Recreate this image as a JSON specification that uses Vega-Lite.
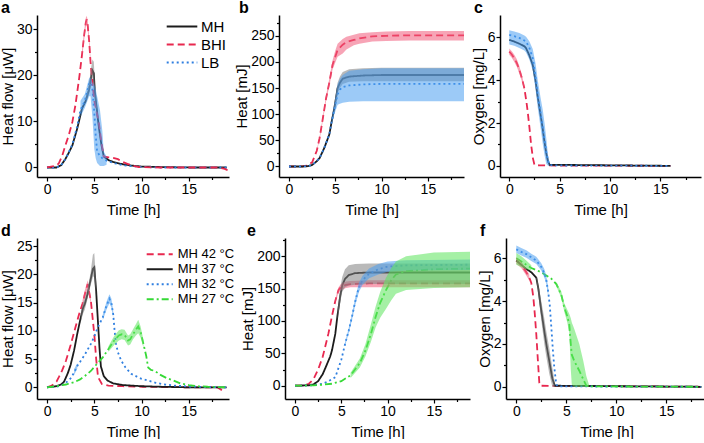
{
"$schema":"https://vega.github.io/schema/vega-lite/v6.json",
"padding":{"left":0,"top":0,"right":0,"bottom":0},
"background":"white",
"config":{"view":{"stroke":null},"font":"Liberation Sans",
"axis":{"grid":false,"domainColor":"#000","tickColor":"#000","labelColor":"#000","titleColor":"#000","labelFont":"Liberation Sans","titleFont":"Liberation Sans","labelFontSize":14,"titleFontSize":15,"titleFontWeight":"normal","tickSize":4,"domainWidth":1.5,"tickWidth":1.2,"labelPadding":1},
"axisX":{"titlePadding":6},"axisY":{"titlePadding":1},
"title":{"font":"Liberation Sans","fontSize":16,"fontWeight":"bold","anchor":"start","frame":"group","baseline":"alphabetic","offset":-1,"color":"#000"}},
"datasets":{
"a":[
{"s":"MH","t":0,"y":0},{"s":"MH","t":1,"y":0},{"s":"MH","t":1.5,"y":0.5},{"s":"MH","t":1.96,"y":1.9},{"s":"MH","t":2.3,"y":3.2},{"s":"MH","t":2.68,"y":4.8},{"s":"MH","t":3.2,"y":8.5},{"s":"MH","t":3.7,"y":12.8},{"s":"MH","t":4.1,"y":14.5,"lo":14,"hi":15},{"s":"MH","t":4.46,"y":17,"lo":16,"hi":18.5},{"s":"MH","t":4.65,"y":19.5,"lo":18,"hi":21.5},{"s":"MH","t":4.8,"y":21.1,"lo":19.5,"hi":23.5},{"s":"MH","t":4.95,"y":20.5,"lo":19,"hi":23},{"s":"MH","t":5.06,"y":16.4,"lo":15,"hi":18.5},{"s":"MH","t":5.3,"y":12,"lo":11,"hi":13},{"s":"MH","t":5.5,"y":8.5},{"s":"MH","t":5.75,"y":5},{"s":"MH","t":6,"y":2.4},{"s":"MH","t":6.5,"y":1.6},{"s":"MH","t":7,"y":1.2},{"s":"MH","t":8,"y":0.7},{"s":"MH","t":9,"y":0.4},{"s":"MH","t":10,"y":0.2},{"s":"MH","t":12,"y":0.1},{"s":"MH","t":15,"y":0},{"s":"MH","t":19,"y":0},
{"s":"LB","t":0,"y":0},{"s":"LB","t":1,"y":0},{"s":"LB","t":1.5,"y":0.5},{"s":"LB","t":1.96,"y":1.9},{"s":"LB","t":2.3,"y":3.3},{"s":"LB","t":2.68,"y":5},{"s":"LB","t":3.2,"y":9},{"s":"LB","t":3.54,"y":12.5,"lo":11,"hi":14.5},{"s":"LB","t":4,"y":14.5,"lo":13,"hi":16},{"s":"LB","t":4.46,"y":18.2,"lo":15.5,"hi":19.5},{"s":"LB","t":4.6,"y":18.5,"lo":15.5,"hi":19.5},{"s":"LB","t":4.8,"y":17,"lo":11,"hi":18.5},{"s":"LB","t":5,"y":12,"lo":4,"hi":18},{"s":"LB","t":5.15,"y":7,"lo":2,"hi":17},{"s":"LB","t":5.3,"y":3.5,"lo":1,"hi":15.5},{"s":"LB","t":5.6,"y":2.5,"lo":0.3,"hi":12.5},{"s":"LB","t":5.85,"y":2,"lo":0.3,"hi":8},{"s":"LB","t":6,"y":1.8,"lo":0.3,"hi":3.5},{"s":"LB","t":6.3,"y":1.5,"lo":0.6,"hi":2.4},{"s":"LB","t":6.5,"y":1.3},{"s":"LB","t":7,"y":1},{"s":"LB","t":8,"y":0.5},{"s":"LB","t":9,"y":0.3},{"s":"LB","t":10,"y":0.1},{"s":"LB","t":12,"y":0},{"s":"LB","t":19,"y":0},
{"s":"BHI","t":0,"y":0},{"s":"BHI","t":1,"y":0.4},{"s":"BHI","t":1.25,"y":0.9},{"s":"BHI","t":1.6,"y":2.5},{"s":"BHI","t":1.96,"y":4.9},{"s":"BHI","t":2.3,"y":7},{"s":"BHI","t":2.68,"y":9.9},{"s":"BHI","t":3,"y":13.5},{"s":"BHI","t":3.4,"y":19.4},{"s":"BHI","t":3.7,"y":24.5,"lo":23.5,"hi":25.5},{"s":"BHI","t":3.93,"y":28.8,"lo":27.8,"hi":29.8},{"s":"BHI","t":4.1,"y":31.5,"lo":30.5,"hi":32.5},{"s":"BHI","t":4.2,"y":32.2,"lo":31.2,"hi":33},{"s":"BHI","t":4.3,"y":31,"lo":30,"hi":32},{"s":"BHI","t":4.46,"y":27.4,"lo":26.4,"hi":28.4},{"s":"BHI","t":4.6,"y":23,"lo":22,"hi":24},{"s":"BHI","t":4.75,"y":19.4},{"s":"BHI","t":5,"y":14.5},{"s":"BHI","t":5.25,"y":12},{"s":"BHI","t":5.5,"y":9.5},{"s":"BHI","t":5.75,"y":5.5},{"s":"BHI","t":6,"y":2.4},{"s":"BHI","t":6.5,"y":2.2},{"s":"BHI","t":7,"y":2.1},{"s":"BHI","t":7.5,"y":1.8},{"s":"BHI","t":8,"y":1.2},{"s":"BHI","t":8.5,"y":0.8},{"s":"BHI","t":9,"y":0.4},{"s":"BHI","t":9.7,"y":0.1},{"s":"BHI","t":12,"y":0},{"s":"BHI","t":15,"y":0},{"s":"BHI","t":18,"y":0},{"s":"BHI","t":18.8,"y":-0.3},{"s":"BHI","t":19.1,"y":-0.6}
],
"b":[
{"s":"BHI","t":0,"y":0},{"s":"BHI","t":1,"y":0},{"s":"BHI","t":1.5,"y":0.5},{"s":"BHI","t":2,"y":2},{"s":"BHI","t":2.5,"y":8},{"s":"BHI","t":3,"y":30,"lo":28,"hi":32},{"s":"BHI","t":3.3,"y":54,"lo":51,"hi":57},{"s":"BHI","t":3.6,"y":86,"lo":82,"hi":90},{"s":"BHI","t":4,"y":130,"lo":125,"hi":136},{"s":"BHI","t":4.35,"y":160,"lo":153,"hi":168},{"s":"BHI","t":4.7,"y":194,"lo":185,"hi":203},{"s":"BHI","t":5,"y":210,"lo":199,"hi":222},{"s":"BHI","t":5.25,"y":223,"lo":210,"hi":235},{"s":"BHI","t":5.8,"y":233,"lo":216,"hi":244},{"s":"BHI","t":6.2,"y":238,"lo":224,"hi":248},{"s":"BHI","t":7,"y":242,"lo":232,"hi":252},{"s":"BHI","t":7.6,"y":245,"lo":235,"hi":255},{"s":"BHI","t":9,"y":249,"lo":239,"hi":257},{"s":"BHI","t":10.5,"y":250,"lo":240,"hi":258},{"s":"BHI","t":13,"y":251,"lo":241,"hi":259},{"s":"BHI","t":19,"y":251,"lo":241,"hi":259},
{"s":"MH","t":0,"y":0},{"s":"MH","t":1.5,"y":0},{"s":"MH","t":2,"y":0.5},{"s":"MH","t":2.5,"y":3},{"s":"MH","t":3,"y":10},{"s":"MH","t":3.3,"y":16},{"s":"MH","t":3.8,"y":35},{"s":"MH","t":4.35,"y":61},{"s":"MH","t":4.6,"y":85},{"s":"MH","t":4.9,"y":112,"lo":108,"hi":118},{"s":"MH","t":5.25,"y":150,"lo":140,"hi":160},{"s":"MH","t":5.5,"y":160,"lo":150,"hi":172},{"s":"MH","t":5.8,"y":168,"lo":158,"hi":181},{"s":"MH","t":6.5,"y":172,"lo":162,"hi":186},{"s":"MH","t":8,"y":174,"lo":163,"hi":188},{"s":"MH","t":10,"y":175,"lo":163,"hi":189},{"s":"MH","t":19,"y":175,"lo":163,"hi":189},
{"s":"LB","t":0,"y":0},{"s":"LB","t":1.5,"y":0},{"s":"LB","t":2,"y":0.5},{"s":"LB","t":2.5,"y":3},{"s":"LB","t":3,"y":10},{"s":"LB","t":3.3,"y":16},{"s":"LB","t":3.8,"y":35},{"s":"LB","t":4.35,"y":61},{"s":"LB","t":4.6,"y":85,"lo":80,"hi":90},{"s":"LB","t":4.9,"y":110,"lo":100,"hi":120},{"s":"LB","t":5.25,"y":138,"lo":118,"hi":158},{"s":"LB","t":5.5,"y":147,"lo":120,"hi":168},{"s":"LB","t":5.8,"y":152,"lo":122,"hi":175},{"s":"LB","t":6.5,"y":155,"lo":124,"hi":183},{"s":"LB","t":8,"y":157,"lo":125,"hi":186},{"s":"LB","t":10,"y":158,"lo":125,"hi":188},{"s":"LB","t":19,"y":158,"lo":125,"hi":188}
],
"c":[
{"s":"BHI","t":0,"y":5.33,"lo":5.18,"hi":5.48},{"s":"BHI","t":0.25,"y":5.2,"lo":5.05,"hi":5.35},{"s":"BHI","t":0.5,"y":5.02,"lo":4.85,"hi":5.18},{"s":"BHI","t":0.75,"y":4.8,"lo":4.62,"hi":4.98},{"s":"BHI","t":1,"y":4.48,"lo":4.3,"hi":4.66},{"s":"BHI","t":1.25,"y":4.1,"lo":3.95,"hi":4.25},{"s":"BHI","t":1.5,"y":3.62,"lo":3.5,"hi":3.74},{"s":"BHI","t":1.7,"y":3.0},{"s":"BHI","t":1.83,"y":2.53},{"s":"BHI","t":2,"y":1.8},{"s":"BHI","t":2.17,"y":0.98},{"s":"BHI","t":2.35,"y":0.35},{"s":"BHI","t":2.5,"y":0.05},{"s":"BHI","t":3,"y":0.02},{"s":"BHI","t":16,"y":0},
{"s":"MH","t":0,"y":5.88},{"s":"MH","t":0.5,"y":5.8},{"s":"MH","t":1,"y":5.7},{"s":"MH","t":1.5,"y":5.58},{"s":"MH","t":1.67,"y":5.49},{"s":"MH","t":2,"y":5.15},{"s":"MH","t":2.33,"y":4.71},{"s":"MH","t":2.6,"y":4.0},{"s":"MH","t":2.83,"y":3.2},{"s":"MH","t":3.1,"y":2.4},{"s":"MH","t":3.33,"y":1.7},{"s":"MH","t":3.5,"y":1.1},{"s":"MH","t":3.67,"y":0.6},{"s":"MH","t":3.85,"y":0.2},{"s":"MH","t":4,"y":0.05},{"s":"MH","t":16,"y":0},
{"s":"LB","t":0,"y":6.11,"lo":5.66,"hi":6.33},{"s":"LB","t":0.5,"y":6.05,"lo":5.6,"hi":6.27},{"s":"LB","t":1,"y":5.97,"lo":5.5,"hi":6.2},{"s":"LB","t":1.5,"y":5.85,"lo":5.38,"hi":6.08},{"s":"LB","t":1.67,"y":5.8,"lo":5.29,"hi":6.03},{"s":"LB","t":2,"y":5.5,"lo":4.95,"hi":5.8},{"s":"LB","t":2.33,"y":5.02,"lo":4.45,"hi":5.45},{"s":"LB","t":2.6,"y":4.2,"lo":3.6,"hi":4.8},{"s":"LB","t":2.83,"y":3.31,"lo":2.7,"hi":4.0},{"s":"LB","t":3.1,"y":2.5,"lo":1.8,"hi":3.2},{"s":"LB","t":3.33,"y":1.75,"lo":1.0,"hi":2.6},{"s":"LB","t":3.5,"y":1.2,"lo":0.5,"hi":2.0},{"s":"LB","t":3.67,"y":0.67,"lo":0.1,"hi":1.3},{"s":"LB","t":3.85,"y":0.25,"lo":0,"hi":0.5},{"s":"LB","t":4,"y":0.05,"lo":0,"hi":0.1},{"s":"LB","t":4.3,"y":0.02},{"s":"LB","t":16,"y":0}
],
"d":[
{"s":"MH 42 °C","t":0,"y":0},{"s":"MH 42 °C","t":0.5,"y":0.3},{"s":"MH 42 °C","t":1,"y":1},{"s":"MH 42 °C","t":1.25,"y":1.8},{"s":"MH 42 °C","t":1.6,"y":3},{"s":"MH 42 °C","t":2,"y":4.7},{"s":"MH 42 °C","t":2.5,"y":7.5},{"s":"MH 42 °C","t":3,"y":10.6},{"s":"MH 42 °C","t":3.4,"y":13},{"s":"MH 42 °C","t":3.75,"y":14.8,"lo":14.2,"hi":15.4},{"s":"MH 42 °C","t":4,"y":16.5,"lo":15.8,"hi":17.2},{"s":"MH 42 °C","t":4.3,"y":18.3,"lo":17.6,"hi":19},{"s":"MH 42 °C","t":4.64,"y":15.3,"lo":14.7,"hi":15.9},{"s":"MH 42 °C","t":5,"y":9.4},{"s":"MH 42 °C","t":5.2,"y":5},{"s":"MH 42 °C","t":5.4,"y":1.8},{"s":"MH 42 °C","t":5.8,"y":0.6},{"s":"MH 42 °C","t":6.5,"y":0.3},{"s":"MH 42 °C","t":8,"y":0.2},{"s":"MH 42 °C","t":10,"y":0.1},{"s":"MH 42 °C","t":15,"y":0},{"s":"MH 42 °C","t":18,"y":0},{"s":"MH 42 °C","t":18.5,"y":-0.5},
{"s":"MH 37 °C","t":0,"y":0},{"s":"MH 37 °C","t":1,"y":0.2},{"s":"MH 37 °C","t":1.5,"y":0.5},{"s":"MH 37 °C","t":1.8,"y":1},{"s":"MH 37 °C","t":2.2,"y":2.5},{"s":"MH 37 °C","t":2.5,"y":4},{"s":"MH 37 °C","t":2.86,"y":6.5},{"s":"MH 37 °C","t":3.2,"y":9.5},{"s":"MH 37 °C","t":3.57,"y":12.4,"lo":11.6,"hi":13.2},{"s":"MH 37 °C","t":3.8,"y":14,"lo":13,"hi":15},{"s":"MH 37 °C","t":4,"y":14.8,"lo":13.8,"hi":15.8},{"s":"MH 37 °C","t":4.28,"y":16.5,"lo":15.6,"hi":17.4},{"s":"MH 37 °C","t":4.6,"y":19,"lo":18,"hi":20.2},{"s":"MH 37 °C","t":4.85,"y":21,"lo":19.5,"hi":23.5},{"s":"MH 37 °C","t":5,"y":21.3,"lo":19.8,"hi":23.8},{"s":"MH 37 °C","t":5.2,"y":17,"lo":16,"hi":18.5},{"s":"MH 37 °C","t":5.36,"y":12.4},{"s":"MH 37 °C","t":5.55,"y":7},{"s":"MH 37 °C","t":5.7,"y":3.7},{"s":"MH 37 °C","t":6,"y":2},{"s":"MH 37 °C","t":6.4,"y":1.2},{"s":"MH 37 °C","t":7,"y":0.7},{"s":"MH 37 °C","t":8,"y":0.4},{"s":"MH 37 °C","t":10,"y":0.2},{"s":"MH 37 °C","t":12,"y":0.1},{"s":"MH 37 °C","t":15,"y":0},{"s":"MH 37 °C","t":19,"y":0},
{"s":"MH 32 °C","t":0,"y":0},{"s":"MH 32 °C","t":1,"y":0.1},{"s":"MH 32 °C","t":1.5,"y":0.3},{"s":"MH 32 °C","t":2,"y":0.8},{"s":"MH 32 °C","t":2.5,"y":1.6},{"s":"MH 32 °C","t":2.86,"y":2.6,"lo":2.2,"hi":3.2},{"s":"MH 32 °C","t":3.2,"y":3.8,"lo":3.3,"hi":4.3},{"s":"MH 32 °C","t":3.57,"y":4.7},{"s":"MH 32 °C","t":4,"y":5.8},{"s":"MH 32 °C","t":4.64,"y":7.7},{"s":"MH 32 °C","t":5,"y":9},{"s":"MH 32 °C","t":5.36,"y":10.6},{"s":"MH 32 °C","t":5.9,"y":12.4,"lo":11.9,"hi":12.9},{"s":"MH 32 °C","t":6.3,"y":14.5,"lo":13.8,"hi":15.2},{"s":"MH 32 °C","t":6.6,"y":15.7,"lo":14.9,"hi":16.5},{"s":"MH 32 °C","t":6.8,"y":15,"lo":14.2,"hi":15.8},{"s":"MH 32 °C","t":7,"y":13,"lo":12.3,"hi":13.7},{"s":"MH 32 °C","t":7.15,"y":10},{"s":"MH 32 °C","t":7.3,"y":7.7},{"s":"MH 32 °C","t":7.5,"y":6.2},{"s":"MH 32 °C","t":7.86,"y":4.7},{"s":"MH 32 °C","t":8.3,"y":3.5},{"s":"MH 32 °C","t":8.9,"y":2.4},{"s":"MH 32 °C","t":9.5,"y":1.9},{"s":"MH 32 °C","t":10,"y":1.5},{"s":"MH 32 °C","t":10.7,"y":1.2},{"s":"MH 32 °C","t":11.5,"y":0.8},{"s":"MH 32 °C","t":12.5,"y":0.5},{"s":"MH 32 °C","t":13.5,"y":0.3},{"s":"MH 32 °C","t":15,"y":0.15},{"s":"MH 32 °C","t":17,"y":0.05},{"s":"MH 32 °C","t":19,"y":0},
{"s":"MH 27 °C","t":0,"y":0},{"s":"MH 27 °C","t":1,"y":0.2},{"s":"MH 27 °C","t":2,"y":0.5},{"s":"MH 27 °C","t":2.86,"y":0.9},{"s":"MH 27 °C","t":3.5,"y":1.4},{"s":"MH 27 °C","t":4,"y":2},{"s":"MH 27 °C","t":4.64,"y":2.9},{"s":"MH 27 °C","t":5.2,"y":4},{"s":"MH 27 °C","t":5.9,"y":5.3},{"s":"MH 27 °C","t":6.5,"y":6.8,"lo":6.3,"hi":7.3},{"s":"MH 27 °C","t":7.1,"y":8.3,"lo":7.5,"hi":9.1},{"s":"MH 27 °C","t":7.6,"y":9.2,"lo":8.3,"hi":10.1},{"s":"MH 27 °C","t":7.9,"y":9.4,"lo":8.5,"hi":10.3},{"s":"MH 27 °C","t":8.2,"y":9.3,"lo":8.4,"hi":10.2},{"s":"MH 27 °C","t":8.57,"y":8.3,"lo":7.4,"hi":9.2},{"s":"MH 27 °C","t":8.8,"y":8.5,"lo":7.6,"hi":9.4},{"s":"MH 27 °C","t":9.1,"y":9.4,"lo":8.5,"hi":10.3},{"s":"MH 27 °C","t":9.4,"y":10.2,"lo":9.2,"hi":11.2},{"s":"MH 27 °C","t":9.65,"y":10.8,"lo":9.6,"hi":12},{"s":"MH 27 °C","t":9.9,"y":9.8,"lo":8.8,"hi":10.8},{"s":"MH 27 °C","t":10.2,"y":7.7,"lo":7,"hi":8.4},{"s":"MH 27 °C","t":10.5,"y":5.5},{"s":"MH 27 °C","t":10.7,"y":3.5},{"s":"MH 27 °C","t":11,"y":3.1},{"s":"MH 27 °C","t":11.4,"y":2.9},{"s":"MH 27 °C","t":12,"y":2.2},{"s":"MH 27 °C","t":12.7,"y":1.6},{"s":"MH 27 °C","t":13.4,"y":1.2},{"s":"MH 27 °C","t":14.1,"y":0.7},{"s":"MH 27 °C","t":15,"y":0.4},{"s":"MH 27 °C","t":16,"y":0.2},{"s":"MH 27 °C","t":17,"y":0.1},{"s":"MH 27 °C","t":19,"y":0}
],
"e":[
{"s":"MH 42 °C","t":0,"y":0},{"s":"MH 42 °C","t":1,"y":0.5},{"s":"MH 42 °C","t":1.5,"y":3},{"s":"MH 42 °C","t":2,"y":10},{"s":"MH 42 °C","t":2.5,"y":25},{"s":"MH 42 °C","t":3,"y":45},{"s":"MH 42 °C","t":3.6,"y":80},{"s":"MH 42 °C","t":4,"y":108},{"s":"MH 42 °C","t":4.35,"y":131,"lo":128,"hi":134},{"s":"MH 42 °C","t":4.7,"y":148,"lo":144,"hi":152},{"s":"MH 42 °C","t":5,"y":153,"lo":148,"hi":158},{"s":"MH 42 °C","t":5.5,"y":156,"lo":151,"hi":161},{"s":"MH 42 °C","t":6,"y":157,"lo":152,"hi":162},{"s":"MH 42 °C","t":8,"y":158,"lo":152,"hi":163},{"s":"MH 42 °C","t":19,"y":158,"lo":152,"hi":163},
{"s":"MH 37 °C","t":0,"y":0},{"s":"MH 37 °C","t":1.5,"y":0.5},{"s":"MH 37 °C","t":2,"y":2},{"s":"MH 37 °C","t":2.5,"y":7},{"s":"MH 37 °C","t":3,"y":18},{"s":"MH 37 °C","t":3.3,"y":28},{"s":"MH 37 °C","t":3.8,"y":45},{"s":"MH 37 °C","t":4,"y":55},{"s":"MH 37 °C","t":4.35,"y":80},{"s":"MH 37 °C","t":4.6,"y":110,"lo":102,"hi":118},{"s":"MH 37 °C","t":4.9,"y":140,"lo":130,"hi":152},{"s":"MH 37 °C","t":5.1,"y":155,"lo":145,"hi":168},{"s":"MH 37 °C","t":5.4,"y":165,"lo":152,"hi":180},{"s":"MH 37 °C","t":5.8,"y":171,"lo":155,"hi":186},{"s":"MH 37 °C","t":6.5,"y":174,"lo":156,"hi":188},{"s":"MH 37 °C","t":8,"y":175,"lo":157,"hi":189},{"s":"MH 37 °C","t":19,"y":175,"lo":157,"hi":189},
{"s":"MH 32 °C","t":0,"y":0},{"s":"MH 32 °C","t":2,"y":0.5},{"s":"MH 32 °C","t":3,"y":3},{"s":"MH 32 °C","t":3.5,"y":6},{"s":"MH 32 °C","t":4,"y":10},{"s":"MH 32 °C","t":4.35,"y":13},{"s":"MH 32 °C","t":5,"y":40},{"s":"MH 32 °C","t":5.4,"y":64,"lo":61,"hi":67},{"s":"MH 32 °C","t":5.8,"y":85,"lo":81,"hi":89},{"s":"MH 32 °C","t":6.15,"y":106,"lo":101,"hi":111},{"s":"MH 32 °C","t":6.5,"y":130,"lo":124,"hi":136},{"s":"MH 32 °C","t":6.9,"y":152,"lo":145,"hi":159},{"s":"MH 32 °C","t":7.3,"y":163,"lo":156,"hi":170},{"s":"MH 32 °C","t":8,"y":173,"lo":166,"hi":181},{"s":"MH 32 °C","t":9,"y":180,"lo":172,"hi":188},{"s":"MH 32 °C","t":10,"y":184,"lo":176,"hi":192},{"s":"MH 32 °C","t":12,"y":186,"lo":178,"hi":194},{"s":"MH 32 °C","t":19,"y":187,"lo":179,"hi":195},
{"s":"MH 27 °C","t":0,"y":0},{"s":"MH 27 °C","t":2,"y":0.5},{"s":"MH 27 °C","t":3,"y":1.5},{"s":"MH 27 °C","t":4,"y":3},{"s":"MH 27 °C","t":5,"y":7},{"s":"MH 27 °C","t":6,"y":16,"lo":12,"hi":20},{"s":"MH 27 °C","t":7,"y":35,"lo":28,"hi":42},{"s":"MH 27 °C","t":7.6,"y":54,"lo":45,"hi":64},{"s":"MH 27 °C","t":8.2,"y":80,"lo":68,"hi":95},{"s":"MH 27 °C","t":8.7,"y":106,"lo":90,"hi":122},{"s":"MH 27 °C","t":9.2,"y":128,"lo":105,"hi":145},{"s":"MH 27 °C","t":9.8,"y":147,"lo":118,"hi":166},{"s":"MH 27 °C","t":10.4,"y":163,"lo":132,"hi":182},{"s":"MH 27 °C","t":10.9,"y":172,"lo":142,"hi":192},{"s":"MH 27 °C","t":12,"y":177,"lo":148,"hi":200},{"s":"MH 27 °C","t":15,"y":180,"lo":151,"hi":206},{"s":"MH 27 °C","t":19,"y":181,"lo":152,"hi":207}
],
"f":[
{"s":"MH 42 °C","t":0,"y":5.9,"lo":5.75,"hi":6.05},{"s":"MH 42 °C","t":0.5,"y":5.7,"lo":5.55,"hi":5.85},{"s":"MH 42 °C","t":1,"y":5.35,"lo":5.2,"hi":5.5},{"s":"MH 42 °C","t":1.3,"y":5.1,"lo":4.95,"hi":5.25},{"s":"MH 42 °C","t":1.5,"y":4.85},{"s":"MH 42 °C","t":1.7,"y":4.2},{"s":"MH 42 °C","t":1.85,"y":3.4},{"s":"MH 42 °C","t":2,"y":2.45},{"s":"MH 42 °C","t":2.15,"y":1.3},{"s":"MH 42 °C","t":2.3,"y":0.2},{"s":"MH 42 °C","t":2.4,"y":0.05},{"s":"MH 42 °C","t":18.5,"y":0},
{"s":"MH 37 °C","t":0,"y":5.9},{"s":"MH 37 °C","t":0.5,"y":5.7},{"s":"MH 37 °C","t":1,"y":5.5},{"s":"MH 37 °C","t":1.5,"y":5.35},{"s":"MH 37 °C","t":2,"y":5.1,"lo":5.0,"hi":5.2},{"s":"MH 37 °C","t":2.2,"y":4.6,"lo":4.3,"hi":4.8},{"s":"MH 37 °C","t":2.5,"y":3.55,"lo":3.1,"hi":4.0},{"s":"MH 37 °C","t":2.8,"y":2.6,"lo":2.0,"hi":3.2},{"s":"MH 37 °C","t":3,"y":2.0,"lo":1.4,"hi":2.6},{"s":"MH 37 °C","t":3.3,"y":1.2,"lo":0.6,"hi":1.8},{"s":"MH 37 °C","t":3.6,"y":0.4,"lo":0,"hi":0.9},{"s":"MH 37 °C","t":3.85,"y":0.05,"lo":0,"hi":0.2},{"s":"MH 37 °C","t":18.5,"y":0},
{"s":"MH 32 °C","t":0,"y":6.42,"lo":6.25,"hi":6.6},{"s":"MH 32 °C","t":0.5,"y":6.3,"lo":6.13,"hi":6.48},{"s":"MH 32 °C","t":1,"y":6.2,"lo":6.03,"hi":6.38},{"s":"MH 32 °C","t":1.5,"y":6.05,"lo":5.88,"hi":6.22},{"s":"MH 32 °C","t":2,"y":5.9,"lo":5.73,"hi":6.07},{"s":"MH 32 °C","t":2.5,"y":5.6,"lo":5.43,"hi":5.77},{"s":"MH 32 °C","t":2.8,"y":5.3,"lo":5.1,"hi":5.5},{"s":"MH 32 °C","t":3,"y":5.0,"lo":4.8,"hi":5.2},{"s":"MH 32 °C","t":3.2,"y":4.4,"lo":4.2,"hi":4.6},{"s":"MH 32 °C","t":3.35,"y":3.8},{"s":"MH 32 °C","t":3.5,"y":2.8},{"s":"MH 32 °C","t":3.66,"y":1.7},{"s":"MH 32 °C","t":3.8,"y":0.9},{"s":"MH 32 °C","t":4,"y":0.1},{"s":"MH 32 °C","t":4.2,"y":0.02},{"s":"MH 32 °C","t":18.5,"y":0},
{"s":"MH 27 °C","t":0,"y":6.0,"lo":5.7,"hi":6.25},{"s":"MH 27 °C","t":0.5,"y":5.85,"lo":5.6,"hi":6.1},{"s":"MH 27 °C","t":1,"y":5.7,"lo":5.5,"hi":5.9},{"s":"MH 27 °C","t":1.5,"y":5.55,"lo":5.42,"hi":5.68},{"s":"MH 27 °C","t":2,"y":5.45},{"s":"MH 27 °C","t":2.5,"y":5.35},{"s":"MH 27 °C","t":3,"y":5.2},{"s":"MH 27 °C","t":3.5,"y":5.05},{"s":"MH 27 °C","t":4,"y":4.8,"lo":4.7,"hi":4.9},{"s":"MH 27 °C","t":4.5,"y":4.3,"lo":4.15,"hi":4.45},{"s":"MH 27 °C","t":4.8,"y":3.7,"lo":3.5,"hi":3.9},{"s":"MH 27 °C","t":5.1,"y":3.3,"lo":3.0,"hi":3.6},{"s":"MH 27 °C","t":5.3,"y":2.9,"lo":2.5,"hi":3.4},{"s":"MH 27 °C","t":5.45,"y":2.0,"lo":0.8,"hi":3.2},{"s":"MH 27 °C","t":5.55,"y":1.5,"lo":0.1,"hi":3.0},{"s":"MH 27 °C","t":5.8,"y":1.2,"lo":0,"hi":2.7},{"s":"MH 27 °C","t":6.3,"y":0.75,"lo":0,"hi":2.0},{"s":"MH 27 °C","t":6.7,"y":0.35,"lo":0,"hi":1.2},{"s":"MH 27 °C","t":7,"y":0.05,"lo":0,"hi":0.5},{"s":"MH 27 °C","t":7.3,"y":0.02,"lo":0,"hi":0.05},{"s":"MH 27 °C","t":18.5,"y":0}
]
},
"vconcat":[
{"hconcat":[
 {"hconcat":[
  {"width":192,"height":162,"title":{"text":"a","dx":-36},"data":{"name":"a"},
   "resolve":{"axis":{"x":"independent","y":"independent"}},
   "layer":[
    {"mark":{"type":"line","strokeWidth":1.8,"clip":true},
     "encoding":{"x":{"field":"t","type":"quantitative","scale":{"domain":[-1.06,19.25],"nice":false,"zero":false},"axis":{"values":[0,5,10,15],"title":"Time [h]"}},
      "y":{"field":"y","type":"quantitative","scale":{"domain":[-2.07,33.15],"nice":false,"zero":false},"axis":{"values":[0,10,20,30],"title":"Heat flow [μW]"}},
      "stroke":{"field":"s","type":"nominal","scale":{"domain":["MH","BHI","LB"],"range":["#1c1c1c","#e8284f","#2f7fe0"]},"legend":{"title":null,"orient":"none","legendX":135,"legendY":1.5,"symbolType":"M-1.7,0H1.7","symbolSize":324,"symbolStrokeWidth":2,"symbolFillColor":"transparent","labelFontSize":15,"labelFont":"Liberation Sans","rowPadding":0,"labelOffset":9,"padding":0}},
      "strokeDash":{"field":"s","type":"nominal","scale":{"domain":["MH","BHI","LB"],"range":[[1,0],[7,4],[2,3]]},"legend":{"title":null,"orient":"none","legendX":135,"legendY":1.5,"symbolType":"M-1.7,0H1.7","symbolSize":324,"symbolStrokeWidth":2,"symbolFillColor":"transparent","labelFontSize":15,"labelFont":"Liberation Sans","rowPadding":0,"labelOffset":9,"padding":0}}}},
    {"mark":{"type":"area","opacity":0.55,"clip":true},
     "encoding":{"x":{"field":"t","type":"quantitative","axis":null},"y":{"field":"lo","type":"quantitative","axis":null},"y2":{"field":"hi"},
      "fill":{"field":"s","type":"nominal","scale":{"domain":["MH","BHI","LB"],"range":["#7f7f7f","#f0597a","#4b9ff0"]},"legend":null}}},
    {"mark":{"type":"line","opacity":0},
     "encoding":{"x":{"field":"t","type":"quantitative","axis":{"orient":"bottom","values":[2.5,7.5,12.5,17.5],"labels":false,"domain":false,"title":null,"tickSize":2.5}},
      "y":{"field":"y","type":"quantitative","axis":{"orient":"left","values":[5,15,25],"labels":false,"domain":false,"title":null,"tickSize":2.5}}}}
   ]},
  {"width":185,"height":162,"title":{"text":"b","dx":-40},"data":{"name":"b"},
   "resolve":{"axis":{"x":"independent","y":"independent"}},
   "layer":[
    {"mark":{"type":"line","strokeWidth":1.8,"clip":true},
     "encoding":{"x":{"field":"t","type":"quantitative","scale":{"domain":[-1.08,18.9],"nice":false,"zero":false},"axis":{"values":[0,5,10,15],"title":"Time [h]"}},
      "y":{"field":"y","type":"quantitative","scale":{"domain":[-20.1,289.8],"nice":false,"zero":false},"axis":{"values":[0,50,100,150,200,250],"title":"Heat [mJ]"}},
      "stroke":{"field":"s","type":"nominal","scale":{"domain":["MH","BHI","LB"],"range":["#1c1c1c","#e8284f","#2f7fe0"]},"legend":null},
      "strokeDash":{"field":"s","type":"nominal","scale":{"domain":["MH","BHI","LB"],"range":[[1,0],[7,4],[2,3]]},"legend":null}}},
    {"mark":{"type":"area","opacity":0.55,"clip":true},
     "encoding":{"x":{"field":"t","type":"quantitative","axis":null},"y":{"field":"lo","type":"quantitative","axis":null},"y2":{"field":"hi"},
      "fill":{"field":"s","type":"nominal","scale":{"domain":["MH","BHI","LB"],"range":["#7f7f7f","#f0597a","#4b9ff0"]},"legend":null}}},
    {"mark":{"type":"line","opacity":0},
     "encoding":{"x":{"field":"t","type":"quantitative","axis":{"orient":"bottom","values":[2.5,7.5,12.5,17.5],"labels":false,"domain":false,"title":null,"tickSize":2.5}},
      "y":{"field":"y","type":"quantitative","axis":{"orient":"left","values":[25,75,125,175,225,275],"labels":false,"domain":false,"title":null,"tickSize":2.5}}}}
   ]}
 ],"spacing":5,"resolve":{"scale":{"x":"independent","y":"independent","stroke":"independent","strokeDash":"independent","fill":"independent"},"legend":{"stroke":"independent","strokeDash":"independent","fill":"independent"}}},
 {"width":201,"height":162,"title":{"text":"c","dx":-26},"data":{"name":"c"},
   "resolve":{"axis":{"x":"independent","y":"independent"}},
   "layer":[
    {"mark":{"type":"line","strokeWidth":1.8,"clip":true},
     "encoding":{"x":{"field":"t","type":"quantitative","scale":{"domain":[-0.92,19.03],"nice":false,"zero":false},"axis":{"values":[0,5,10,15],"title":"Time [h]"}},
      "y":{"field":"y","type":"quantitative","scale":{"domain":[-0.52,7.04],"nice":false,"zero":false},"axis":{"values":[0,2,4,6],"title":"Oxygen [mg/L]"}},
      "stroke":{"field":"s","type":"nominal","scale":{"domain":["MH","BHI","LB"],"range":["#1c1c1c","#e8284f","#2f7fe0"]},"legend":null},
      "strokeDash":{"field":"s","type":"nominal","scale":{"domain":["MH","BHI","LB"],"range":[[1,0],[7,4],[2,3]]},"legend":null}}},
    {"mark":{"type":"area","opacity":0.55,"clip":true},
     "encoding":{"x":{"field":"t","type":"quantitative","axis":null},"y":{"field":"lo","type":"quantitative","axis":null},"y2":{"field":"hi"},
      "fill":{"field":"s","type":"nominal","scale":{"domain":["MH","BHI","LB"],"range":["#7f7f7f","#f0597a","#4b9ff0"]},"legend":null}}},
    {"mark":{"type":"line","opacity":0},
     "encoding":{"x":{"field":"t","type":"quantitative","axis":{"orient":"bottom","values":[2.5,7.5,12.5,17.5],"labels":false,"domain":false,"title":null,"tickSize":2.5}},
      "y":{"field":"y","type":"quantitative","axis":{"orient":"left","values":[1,3,5],"labels":false,"domain":false,"title":null,"tickSize":2.5}}}}
   ]}
],"spacing":6,"resolve":{"scale":{"x":"independent","y":"independent","stroke":"independent","strokeDash":"independent","fill":"independent"},"legend":{"stroke":"independent","strokeDash":"independent","fill":"independent"}}},
{"hconcat":[
 {"hconcat":[
  {"width":192,"height":161,"title":{"text":"d","dx":-36},"data":{"name":"d"},
   "resolve":{"axis":{"x":"independent","y":"independent"}},
   "layer":[
    {"mark":{"type":"line","strokeWidth":1.8,"clip":true},
     "encoding":{"x":{"field":"t","type":"quantitative","scale":{"domain":[-1.06,19.25],"nice":false,"zero":false},"axis":{"values":[0,5,10,15],"title":"Time [h]"}},
      "y":{"field":"y","type":"quantitative","scale":{"domain":[-2.07,26.47],"nice":false,"zero":false},"axis":{"values":[0,5,10,15,20,25],"title":"Heat flow [μW]"}},
      "stroke":{"field":"s","type":"nominal","scale":{"domain":["MH 42 °C","MH 37 °C","MH 32 °C","MH 27 °C"],"range":["#e8284f","#1c1c1c","#2f7fe0","#36d936"]},"legend":{"title":null,"orient":"none","legendX":114.7,"legendY":8.3,"symbolType":"M-1.86,0H1.86","symbolSize":196,"symbolStrokeWidth":2,"symbolFillColor":"transparent","labelFontSize":13,"labelFont":"Liberation Sans","rowPadding":0,"labelOffset":10,"padding":0}},
      "strokeDash":{"field":"s","type":"nominal","scale":{"domain":["MH 42 °C","MH 37 °C","MH 32 °C","MH 27 °C"],"range":[[7,4],[1,0],[2,3],[7,3,2,3]]},"legend":{"title":null,"orient":"none","legendX":114.7,"legendY":8.3,"symbolType":"M-1.86,0H1.86","symbolSize":196,"symbolStrokeWidth":2,"symbolFillColor":"transparent","labelFontSize":13,"labelFont":"Liberation Sans","rowPadding":0,"labelOffset":10,"padding":0}}}},
    {"mark":{"type":"area","opacity":0.55,"clip":true},
     "encoding":{"x":{"field":"t","type":"quantitative","axis":null},"y":{"field":"lo","type":"quantitative","axis":null},"y2":{"field":"hi"},
      "fill":{"field":"s","type":"nominal","scale":{"domain":["MH 42 °C","MH 37 °C","MH 32 °C","MH 27 °C"],"range":["#f0597a","#7f7f7f","#4b9ff0","#5be35b"]},"legend":null}}},
    {"mark":{"type":"line","opacity":0},
     "encoding":{"x":{"field":"t","type":"quantitative","axis":{"orient":"bottom","values":[2.5,7.5,12.5,17.5],"labels":false,"domain":false,"title":null,"tickSize":2.5}},
      "y":{"field":"y","type":"quantitative","axis":{"orient":"left","values":[2.5,7.5,12.5,17.5,22.5],"labels":false,"domain":false,"title":null,"tickSize":2.5}}}}
   ]},
  {"width":185,"height":161,"title":{"text":"e","dx":-38},"data":{"name":"e"},
   "resolve":{"axis":{"x":"independent","y":"independent"}},
   "layer":[
    {"mark":{"type":"line","strokeWidth":1.8,"clip":true},
     "encoding":{"x":{"field":"t","type":"quantitative","scale":{"domain":[-1.08,18.9],"nice":false,"zero":false},"axis":{"values":[0,5,10,15],"title":"Time [h]"}},
      "y":{"field":"y","type":"quantitative","scale":{"domain":[-20.6,228.3],"nice":false,"zero":false},"axis":{"values":[0,50,100,150,200],"title":"Heat [mJ]"}},
      "stroke":{"field":"s","type":"nominal","scale":{"domain":["MH 42 °C","MH 37 °C","MH 32 °C","MH 27 °C"],"range":["#e8284f","#1c1c1c","#2f7fe0","#36d936"]},"legend":null},
      "strokeDash":{"field":"s","type":"nominal","scale":{"domain":["MH 42 °C","MH 37 °C","MH 32 °C","MH 27 °C"],"range":[[7,4],[1,0],[2,3],[7,3,2,3]]},"legend":null}}},
    {"mark":{"type":"area","opacity":0.55,"clip":true},
     "encoding":{"x":{"field":"t","type":"quantitative","axis":null},"y":{"field":"lo","type":"quantitative","axis":null},"y2":{"field":"hi"},
      "fill":{"field":"s","type":"nominal","scale":{"domain":["MH 42 °C","MH 37 °C","MH 32 °C","MH 27 °C"],"range":["#f0597a","#7f7f7f","#4b9ff0","#5be35b"]},"legend":null}}},
    {"mark":{"type":"line","opacity":0},
     "encoding":{"x":{"field":"t","type":"quantitative","axis":{"orient":"bottom","values":[2.5,7.5,12.5,17.5],"labels":false,"domain":false,"title":null,"tickSize":2.5}},
      "y":{"field":"y","type":"quantitative","axis":{"orient":"left","values":[25,75,125,175,225],"labels":false,"domain":false,"title":null,"tickSize":2.5}}}}
   ]}
 ],"spacing":5,"resolve":{"scale":{"x":"independent","y":"independent","stroke":"independent","strokeDash":"independent","fill":"independent"},"legend":{"stroke":"independent","strokeDash":"independent","fill":"independent"}}},
 {"width":201,"height":161,"title":{"text":"f","dx":-26},"data":{"name":"f"},
   "resolve":{"axis":{"x":"independent","y":"independent"}},
   "layer":[
    {"mark":{"type":"line","strokeWidth":1.8,"clip":true},
     "encoding":{"x":{"field":"t","type":"quantitative","scale":{"domain":[-1.03,19.07],"nice":false,"zero":false},"axis":{"values":[0,5,10,15],"title":"Time [h]"}},
      "y":{"field":"y","type":"quantitative","scale":{"domain":[-0.57,6.95],"nice":false,"zero":false},"axis":{"values":[0,2,4,6],"title":"Oxygen [mg/L]"}},
      "stroke":{"field":"s","type":"nominal","scale":{"domain":["MH 42 °C","MH 37 °C","MH 32 °C","MH 27 °C"],"range":["#e8284f","#1c1c1c","#2f7fe0","#36d936"]},"legend":null},
      "strokeDash":{"field":"s","type":"nominal","scale":{"domain":["MH 42 °C","MH 37 °C","MH 32 °C","MH 27 °C"],"range":[[7,4],[1,0],[2,3],[7,3,2,3]]},"legend":null}}},
    {"mark":{"type":"area","opacity":0.55,"clip":true},
     "encoding":{"x":{"field":"t","type":"quantitative","axis":null},"y":{"field":"lo","type":"quantitative","axis":null},"y2":{"field":"hi"},
      "fill":{"field":"s","type":"nominal","scale":{"domain":["MH 42 °C","MH 37 °C","MH 32 °C","MH 27 °C"],"range":["#f0597a","#7f7f7f","#4b9ff0","#5be35b"]},"legend":null}}},
    {"mark":{"type":"line","opacity":0},
     "encoding":{"x":{"field":"t","type":"quantitative","axis":{"orient":"bottom","values":[2.5,7.5,12.5,17.5],"labels":false,"domain":false,"title":null,"tickSize":2.5}},
      "y":{"field":"y","type":"quantitative","axis":{"orient":"left","values":[1,3,5],"labels":false,"domain":false,"title":null,"tickSize":2.5}}}}
   ]}
],"spacing":6,"resolve":{"scale":{"x":"independent","y":"independent","stroke":"independent","strokeDash":"independent","fill":"independent"},"legend":{"stroke":"independent","strokeDash":"independent","fill":"independent"}}}
],
"spacing":6,
"resolve":{"scale":{"x":"independent","y":"independent","stroke":"independent","strokeDash":"independent","fill":"independent"},"legend":{"stroke":"independent","strokeDash":"independent","fill":"independent"}}
}
